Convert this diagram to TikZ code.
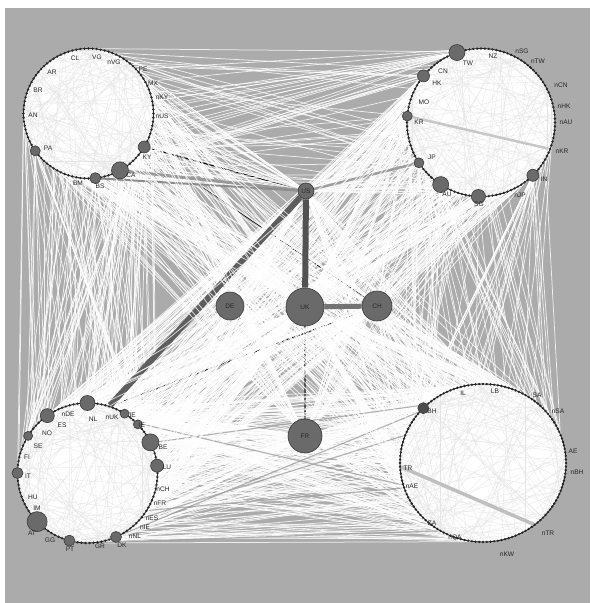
\documentclass[tikz,border=0pt]{standalone}
\usepackage{fontspec}
\setsansfont{Liberation Sans}

\definecolor{bggray}{HTML}{ABABAB}
\definecolor{hubgray}{HTML}{6A6A6A}
\definecolor{hubline}{HTML}{3A3A3A}
\definecolor{inkgray}{HTML}{262626}

\pgfdeclarelayer{back}
\pgfdeclarelayer{links}
\pgfdeclarelayer{disks}
\pgfdeclarelayer{inner}
\pgfsetlayers{back,links,disks,inner,main}

\tikzset{
  bead/.style={circle, fill=black!85, inner sep=0pt, minimum size=2.6pt},
  hub/.style={circle, draw=hubline, fill=hubgray, line width=0.6pt, inner sep=0pt},
  mid/.style={hub, font=\sffamily\fontsize{6.5}{7}\selectfont, text=inkgray},
  lbl/.style={font=\sffamily\fontsize{6.6}{7}\selectfont, text=inkgray, inner sep=0pt},
  rim/.style={draw=black!85, line width=0.9pt},
  wlink/.style={draw=white, line width=0.75pt, opacity=0.8},
  glink/.style={draw=black!38, line width=1.1pt, opacity=0.8},
  ilink/.style={draw=black!10, line width=0.3pt},
}

% beads round one cluster: prefix, centre, count, radius
\newcommand\ring[4]{%
  \foreach \k in {1,...,#3}
    \node[bead] (#1\k) at ([shift={({(360/#3)*\k}:#4)}]#2) {};}
% random links between two rings
\newcommand\manylinks[6]{%
  \foreach \i in {1,...,#5}{%
    \pgfmathrandominteger{\ra}{1}{#2}%
    \pgfmathrandominteger{\rb}{1}{#4}%
    \draw[#6] (#1\ra) -- (#3\rb);}}
% random links from the hubs of one ring to the beads of another
\newcommand\hublinks[4]{%
  \foreach \i in {1,...,#4}{%
    \pgfmathrandomitem{\ha}{#1}%
    \pgfmathrandominteger{\rb}{1}{#3}%
    \draw[wlink] (\ha) -- (#2\rb);}}
% random links from a centre node to a ring
\newcommand\tocentre[4]{%
  \foreach \i in {1,...,#4}{%
    \pgfmathrandominteger{\rb}{1}{#3}%
    \draw[wlink] (#1) -- (#2\rb);}}
\newcommand\hubcentre[3]{%
  \foreach \i in {1,...,#3}{%
    \pgfmathrandomitem{\ha}{#2}%
    \draw[wlink] (#1) -- (\ha);}}
% one pass of the light links
\newcommand\linkset{%
  \manylinks{tl}{100}{tr}{120}{14}{wlink}
  \hublinks{trhubs}{tl}{100}{14}
  \manylinks{tl}{100}{bl}{110}{36}{wlink}
  \hublinks{tlhubs}{bl}{110}{12}
  \hublinks{blhubs}{tl}{100}{12}
  \manylinks{tr}{120}{br}{140}{20}{wlink}
  \hublinks{trhubs}{br}{140}{20}
  \manylinks{tl}{100}{br}{140}{28}{wlink}
  \hublinks{tlhubs}{br}{140}{10}
  \manylinks{tr}{120}{bl}{110}{32}{wlink}
  \hublinks{trhubs}{bl}{110}{20}
  \hublinks{blhubs}{tr}{120}{12}
  \manylinks{bl}{110}{br}{140}{80}{wlink}
  \hublinks{blhubs}{br}{140}{35}
  \tocentre{US}{tl}{100}{16} \tocentre{US}{tr}{120}{16}
  \tocentre{US}{bl}{110}{16} \tocentre{US}{br}{140}{16}
  \tocentre{UK}{tl}{100}{20} \tocentre{UK}{tr}{120}{25}
  \tocentre{UK}{bl}{110}{40} \tocentre{UK}{br}{140}{45}
  \tocentre{FR}{tl}{100}{10} \tocentre{FR}{tr}{120}{15}
  \tocentre{FR}{bl}{110}{30} \tocentre{FR}{br}{140}{30}
  \tocentre{CH}{tl}{100}{8} \tocentre{CH}{tr}{120}{10}
  \tocentre{CH}{bl}{110}{22} \tocentre{CH}{br}{140}{22}
  \tocentre{DE}{tl}{100}{8} \tocentre{DE}{tr}{120}{10}
  \tocentre{DE}{bl}{110}{10} \tocentre{DE}{br}{140}{8}
  \hubcentre{US}{blhubs}{8} \hubcentre{UK}{trhubs}{8}
  \hubcentre{UK}{blhubs}{10} \hubcentre{FR}{blhubs}{8}}

\pgfmathdeclarerandomlist{tlhubs}{{tlPA}{tlKY}{tlCA}{tlCA}{tlBS}}
\pgfmathdeclarerandomlist{trhubs}{{trTW}{trTW}{trTW}{trHK}{trKR}{trJP}{trAU}{trSG}{trIN}{trIN}}
\pgfmathdeclarerandomlist{blhubs}{{blNL}{blES}{blSE}{blIT}{blAT}{blPT}{blDK}{blLU}{blBE}{blIE}{blJE}}

\begin{document}
\begin{tikzpicture}[x=1pt, y=-1pt]
\pgfmathsetseed{2024}
\useasboundingbox (0,0) rectangle (590,603);
\begin{pgfonlayer}{back}
  \fill[white] (0,0) rectangle (590,603);
  \fill[bggray] (5,8) rectangle (590,603);
\end{pgfonlayer}

% clusters
\coordinate (tlc) at (88.5,113.5);
\coordinate (trc) at (481,122.5);
\coordinate (blc) at (87.5,473);
\coordinate (brc) at (483,463);
\draw[rim] (tlc) circle[radius=65];
\draw[rim] (trc) circle[radius=74];
\draw[rim] (blc) circle[radius=70];
\draw[rim] (brc) ellipse[x radius=83, y radius=79];
\ring{tl}{tlc}{100}{65}
\ring{tr}{trc}{120}{74}
\ring{bl}{blc}{110}{70}
\ring{br}{brc}{140}{83 and 79}
\begin{pgfonlayer}{disks}
  \fill[white] (tlc) circle[radius=65];
  \fill[white] (trc) circle[radius=74];
  \fill[white] (blc) circle[radius=70];
  \fill[white] (brc) ellipse[x radius=83, y radius=79];
\end{pgfonlayer}

% hubs on the rings
\node[hub, minimum size=10pt] (tlPA) at ([shift={(145:65)}]tlc) {};
\node[hub, minimum size=12pt] (tlKY) at ([shift={(31:65)}]tlc) {};
\node[hub, minimum size=17pt] (tlCA) at ([shift={(61:65)}]tlc) {};
\node[hub, minimum size=11pt] (tlBS) at ([shift={(84:65)}]tlc) {};
\node[hub, minimum size=16pt] (trTW) at ([shift={(251:74)}]trc) {};
\node[hub, minimum size=12pt] (trHK) at ([shift={(219:74)}]trc) {};
\node[hub, minimum size=10pt] (trKR) at ([shift={(185:74)}]trc) {};
\node[hub, minimum size=10pt] (trJP) at ([shift={(147:74)}]trc) {};
\node[hub, minimum size=16pt] (trAU) at ([shift={(123:74)}]trc) {};
\node[hub, minimum size=14pt] (trSG) at ([shift={(92:74)}]trc) {};
\node[hub, minimum size=12pt] (trIN) at ([shift={(45.5:74)}]trc) {};
\node[hub, minimum size=15pt] (blNL) at ([shift={(270:70)}]blc) {};
\node[hub, minimum size=14pt] (blES) at ([shift={(235:70)}]blc) {};
\node[hub, minimum size=9pt] (blSE) at ([shift={(212:70)}]blc) {};
\node[hub, minimum size=11pt] (blIT) at ([shift={(180:70)}]blc) {};
\node[hub, minimum size=20pt] (blAT) at ([shift={(136:70)}]blc) {};
\node[hub, minimum size=11pt] (blPT) at ([shift={(105:70)}]blc) {};
\node[hub, minimum size=11pt] (blDK) at ([shift={(66:70)}]blc) {};
\node[hub, minimum size=13pt] (blLU) at ([shift={(-6:70)}]blc) {};
\node[hub, minimum size=17pt] (blBE) at ([shift={(-26:70)}]blc) {};
\node[hub, minimum size=9pt] (blIE) at ([shift={(-44:70)}]blc) {};
\node[hub, minimum size=9pt] (blJE) at ([shift={(-58:70)}]blc) {};
\node[hub, minimum size=11pt, fill=black!70] (brBH) at ([shift={(224:83 and 79)}]brc) {};

% centre nodes
\node[mid, minimum size=16pt] (US) at (306,191) {US};
\node[mid, minimum size=28pt] (DE) at (230,306) {DE};
\node[mid, minimum size=38pt] (UK) at (305,307) {UK};
\node[mid, minimum size=30pt] (CH) at (377,306) {CH};
\node[mid, minimum size=34pt] (FR) at (305,436) {FR};

% labels
\foreach \t/\x/\y in {CL/75/58, VG/97/57, nVG/114/62, PE/143/69, MX/153/83,
    nKY/162/97, nUS/162/116, KY/147/157, CA/131/175, BS/100/186, BM/78/183,
    PA/48/148, AN/33/115, BR/38/90, AR/52/72}
  \node[lbl] (l-tl-\t) at (\x,\y) {\t};
\foreach \t/\x/\y in {TW/468/63, NZ/493/56, nSG/522/51, nTW/538/61, CN/443/71,
    HK/437/83, MO/424/102, KR/419/122, JP/432/157, AU/447/194, SG/479/204,
    nJP/520/195, IN/544/179, nKR/562/151, nAU/566/122, nHK/564/106, nCN/561/85}
  \node[lbl] (l-tr-\t) at (\x,\y) {\t};
\foreach \t/\x/\y in {nDE/68/414, NL/93/419, nUK/112/417, JE/132/415, IE/142/425,
    BE/163/447, LU/167/467, nCH/163/489, nFR/160/503, nES/152/518, nIE/145/527,
    nNL/135/536, DK/122/545, GR/100/546, PT/70/549, GG/50/540, AT/32/533,
    IM/37/508, HU/33/497, IT/28/476, FI/27/457, SE/38/446, NO/47/433, ES/62/425}
  \node[lbl] (l-bl-\t) at (\x,\y) {\t};
\foreach \t/\x/\y in {BH/432/411, IL/463/393, LB/495/391, SA/537/395, nSA/558/411,
    AE/573/451, nBH/577/472, TR/408/468, nAE/412/486, ZA/432/523, nQA/455/538,
    nTR/548/533, nKW/507/554}
  \node[lbl] (l-br-\t) at (\x,\y) {\t};

\begin{pgfonlayer}{links}
  \linkset
  % dark flows, partly covered by the next pass
  \draw[draw=black!68, line width=2.2pt] (UK) -- (FR);
  \draw[draw=black, line width=1pt] (tlKY) -- (US);
  \draw[draw=black, line width=1pt] (tlKY) -- (CH);
  \draw[draw=black, line width=1pt] (blJE) -- (UK);
  \draw[draw=black, line width=1pt] (bl88) -- (CH);
  \draw[draw=black!80, line width=0.9pt] (blIE) -- (UK);
  \linkset
  % heavy flows
  \draw[draw=black!40, line width=3pt] (tlCA) -- (US);
  \draw[draw=black!45, line width=2pt] (tlBS) -- (US);
  \draw[draw=black!38, line width=2.5pt] (US) -- (trJP);
  \draw[draw=black!63, line width=6pt] (US) -- (bl88);
  \manylinks{bl}{110}{br}{140}{6}{glink}
  % a few light links over the heavy ones
  \manylinks{bl}{110}{tr}{120}{25}{wlink}
  \manylinks{tl}{100}{br}{140}{20}{wlink}
  \tocentre{UK}{bl}{110}{15}
  \tocentre{FR}{tl}{100}{12}
  \draw[draw=black!55, line width=5pt] (UK) -- (CH);
  \draw[draw=black!68, line width=6pt] (US) -- (UK);
\end{pgfonlayer}

\begin{pgfonlayer}{inner}
  \manylinks{tl}{100}{tl}{100}{150}{ilink}
  \manylinks{tr}{120}{tr}{120}{150}{ilink}
  \manylinks{bl}{110}{bl}{110}{150}{ilink}
  \manylinks{br}{140}{br}{140}{150}{ilink}
  \draw[draw=black!22, line width=2.5pt] (trKR) -- (tr7);
  \draw[draw=black!25, line width=3.5pt] (br69) -- (br20);
\end{pgfonlayer}
\end{tikzpicture}
\end{document}
